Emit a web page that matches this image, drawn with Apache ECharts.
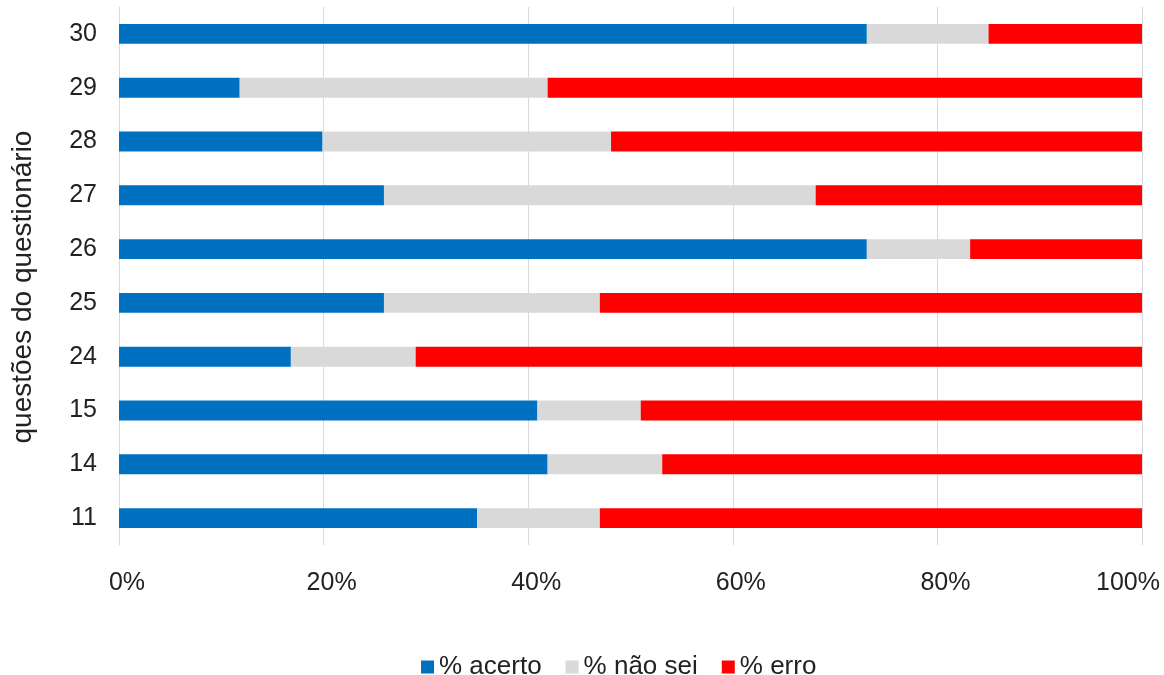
<!DOCTYPE html>
<html>
<head>
<meta charset="utf-8">
<script src="https://cdn.jsdelivr.net/npm/echarts@6/dist/echarts.min.js"></script>
<style>
  html, body { margin: 0; padding: 0; background: #fff; }
  #chart { width: 1164px; height: 675px; }
</style>
</head>
<body>
<div id="chart"></div>
<script>
// questions, bottom to top
const questoes = ["11", "14", "15", "24", "25", "26", "27", "28", "29", "30"]
const acerto = [35.0, 41.9, 40.9, 16.8, 25.9, 73.1, 25.9, 19.9, 11.8, 73.1]
const naoSei = [12.0, 11.2, 10.1, 12.2, 21.1, 10.1, 42.2, 28.2, 30.1, 11.9]
const erro = [53.0, 46.9, 49.0, 71.0, 53.0, 16.8, 31.9, 51.9, 58.1, 15.0]

const chart = echarts.init(document.getElementById("chart"))
const font = "Liberation Sans, Arial, sans-serif"

const option = {
  animation: false,
  textStyle: { fontFamily: font },
  grid: { left: 119, right: 22, top: 7, bottom: 130, outerBoundsMode: "none" },
  legend: {
    top: 649,
    left: 416,
    itemWidth: 13,
    itemHeight: 13,
    itemGap: 24,
    icon: "rect",
    textStyle: { fontSize: 26, color: "#222", fontFamily: font },
    data: ["% acerto", "% não sei", "% erro"],
  },
  xAxis: {
    type: "value",
    min: 0,
    max: 100,
    interval: 20,
    axisLine: { show: false },
    axisTick: { show: false },
    splitLine: { lineStyle: { color: "#d9d9d9", width: 1 } },
    axisLabel: {
      formatter: (v) => (v === 100 ? "{e|" + v + "%}" : "{n|" + v + "%}"),
      fontSize: 25,
      color: "#222",
      margin: 26,
      rich: {
        n: { fontSize: 25, color: "#222", padding: [0, 0, 0, 16] },
        e: { fontSize: 25, color: "#222", padding: [0, 28, 0, 0] },
      },
    },
  },
  yAxis: {
    type: "category",
    data: questoes,
    name: "questões do questionário",
    nameLocation: "middle",
    nameRotate: 90,
    nameGap: 82,
    nameTextStyle: { fontSize: 28, color: "#222", padding: [0, 22, 0, 0] },
    axisLine: { show: true, lineStyle: { color: "#d9d9d9" } },
    axisTick: { show: false },
    axisLabel: { fontSize: 25, color: "#222", margin: 22 },
  },
  series: [
    {
      name: "% acerto",
      type: "bar",
      stack: "total",
      barWidth: "37%",
      data: acerto,
      itemStyle: { color: "#0070c0" },
    },
    {
      name: "% não sei",
      type: "bar",
      stack: "total",
      data: naoSei,
      itemStyle: { color: "#d9d9d9" },
    },
    {
      name: "% erro",
      type: "bar",
      stack: "total",
      data: erro,
      itemStyle: { color: "#ff0000" },
    },
  ],
}
chart.setOption(option)
</script>
</body>
</html>
